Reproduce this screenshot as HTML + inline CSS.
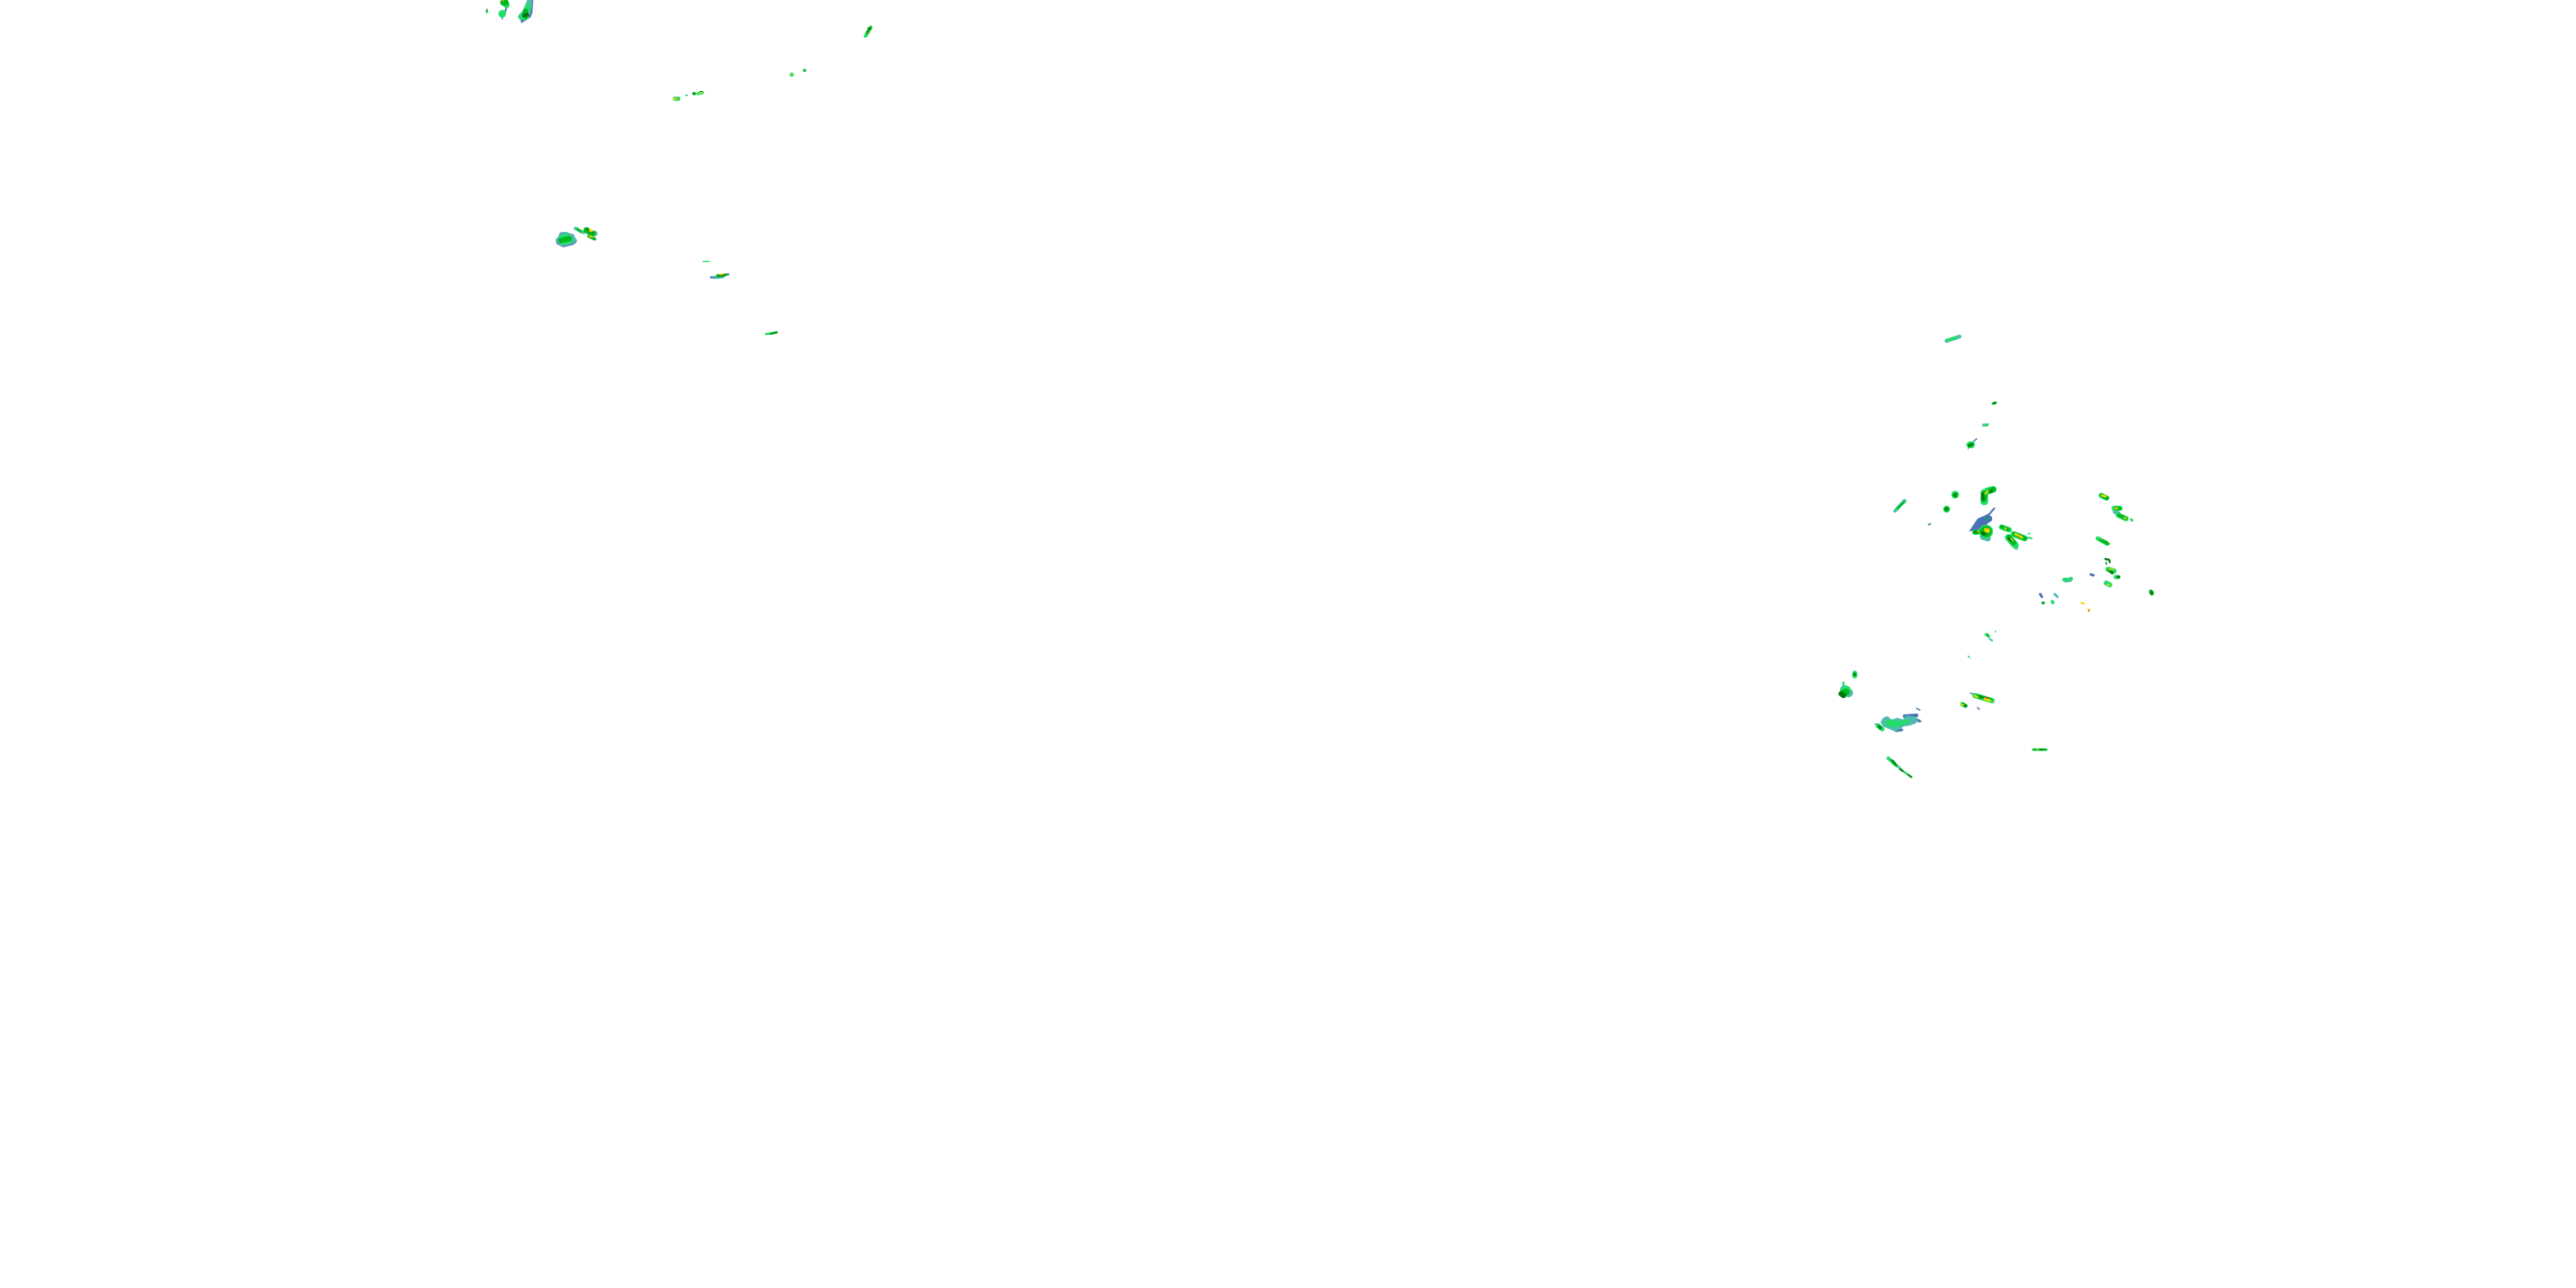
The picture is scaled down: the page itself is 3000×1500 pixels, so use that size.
<!DOCTYPE html>
<html>
<head>
<meta charset="utf-8">
<style>
html,body{margin:0;padding:0;background:#fff;width:3000px;height:1500px;overflow:hidden}
svg{display:block}
line{stroke-linecap:round}
</style>
</head>
<body>
<svg width="3000" height="1500" viewBox="0 0 3000 1500" xmlns="http://www.w3.org/2000/svg">
<rect width="3000" height="1500" fill="#fff"/>

<!-- blue layer -->
<g fill="#4a72b4" stroke="#4a72b4">
<polygon points="616,0 621,0 620,15 618,20 612,24 607,27 606,22 609,12" stroke="none"/>
<line x1="590" y1="8" x2="587" y2="18" stroke-width="2"/>
<line x1="584" y1="18" x2="585" y2="22" stroke-width="1.500"/>
<polygon points="652,271 658,270 668,273 672,281 668,285 660,287 656,288 648,284 647,279 650,276" stroke="none"/>
<line x1="688" y1="276" x2="694" y2="279" stroke-width="1.500"/>
<line x1="828" y1="323" x2="836" y2="323" stroke-width="2.500"/>
<line x1="844" y1="320" x2="848" y2="319.500" stroke-width="2.500"/>
<line x1="2302" y1="511" x2="2297" y2="515" stroke-width="1.500"/>
<line x1="2293" y1="520" x2="2292" y2="523" stroke-width="1"/>
<polygon points="2293,619 2303,604 2310,601 2316,598 2322,591 2324,592 2317,600 2320,602 2320,606 2312,612 2306,616 2298,618" stroke="none"/>
<line x1="2295" y1="807" x2="2305" y2="812" stroke-width="1.500"/>
<line x1="2303" y1="824" x2="2305" y2="826" stroke-width="1.500"/>
<line x1="2376" y1="692" x2="2378" y2="695" stroke-width="3"/>
<line x1="2435" y1="669" x2="2438" y2="670" stroke-width="3"/>
<line x1="2208" y1="851" x2="2215" y2="850" stroke-width="3"/>
<line x1="2218" y1="834" x2="2232" y2="833" stroke-width="4"/>
<line x1="2228" y1="836" x2="2236" y2="840" stroke-width="3"/>
<line x1="2232" y1="825" x2="2236" y2="827" stroke-width="1.500"/>
<line x1="2184" y1="843" x2="2188" y2="847" stroke-width="1.500"/>
</g>

<!-- teal layer -->
<g fill="#4fbcae" stroke="#4fbcae">
<polygon points="614,0 620,0 618,16 610,22 605,23 603,19 609,12" stroke="none"/>
<polygon points="652,272 660,270 668,274 672,280 667,284 660,286 655,287 649,283 647,279 650,276" stroke="none"/>
<line x1="670" y1="266" x2="680" y2="271" stroke-width="3.500"/>
<line x1="686" y1="270" x2="693" y2="272" stroke-width="6"/>
<line x1="832" y1="323" x2="842" y2="322" stroke-width="4"/>
<line x1="2267" y1="397" x2="2282" y2="392" stroke-width="4.500"/>
<line x1="2310" y1="495" x2="2314" y2="495" stroke-width="3.500"/>
<line x1="2207" y1="595" x2="2218" y2="583" stroke-width="4"/>
<line x1="2296" y1="516" x2="2300" y2="513" stroke-width="2"/>
<line x1="2309" y1="625" x2="2315" y2="627" stroke-width="7"/>
<line x1="2348" y1="633" x2="2348" y2="638" stroke-width="4.500"/>
<line x1="2463" y1="596" x2="2467" y2="598" stroke-width="5"/>
<line x1="2406" y1="676" x2="2411" y2="675" stroke-width="5"/>
<line x1="2390" y1="700" x2="2391" y2="701" stroke-width="3"/>
<line x1="2393" y1="692" x2="2396" y2="695" stroke-width="3"/>
<line x1="2317" y1="744" x2="2320" y2="746" stroke-width="2"/>
<polygon points="2193,836 2198,834 2203,838 2210,836 2216,838 2220,833 2226,834 2232,835 2234,840 2230,843 2224,845 2217,846 2213,849 2207,852 2200,849 2193,846 2190,841" stroke="none"/>
<line x1="2148" y1="803" x2="2153" y2="807" stroke-width="10"/>
<line x1="2208" y1="890" x2="2214" y2="896" stroke-width="2.500"/>
</g>

<!-- light green layer -->
<g fill="#22dd66" stroke="#22dd66">
<line x1="567" y1="14" x2="567" y2="14" stroke-width="3"/>
<ellipse cx="585" cy="16" rx="4.500" ry="4.500" stroke="none"/>
<line x1="588" y1="4" x2="590" y2="6" stroke-width="7"/>
<ellipse cx="610" cy="19" rx="6" ry="4.500" stroke="none"/>
<line x1="615" y1="7" x2="612" y2="16" stroke-width="6"/>
<polygon points="653,274 660,272 666,276 668,281 662,284 655,285 650,281" stroke="none"/>
<line x1="672" y1="266" x2="677" y2="270" stroke-width="3"/>
<line x1="1008" y1="42" x2="1014" y2="32" stroke-width="4"/>
<line x1="2268" y1="396" x2="2278" y2="393" stroke-width="3.500"/>
<line x1="2312" y1="495" x2="2315" y2="494" stroke-width="2.500"/>
<ellipse cx="2295" cy="518" rx="5" ry="4" stroke="none"/>
<circle cx="2277" cy="576" r="4.500" stroke="none"/>
<circle cx="2267" cy="593" r="4" stroke="none"/>
<line x1="2208" y1="594" x2="2219" y2="584" stroke-width="2.500"/>
<line x1="2311" y1="574" x2="2311" y2="584" stroke-width="9"/>
<line x1="2314" y1="572" x2="2321" y2="570" stroke-width="8"/>
<line x1="2300" y1="620" x2="2310" y2="619" stroke-width="6"/>
<circle cx="2313" cy="619" r="8" stroke="none"/>
<line x1="2331" y1="614" x2="2340" y2="617" stroke-width="6"/>
<line x1="2345" y1="622" x2="2358" y2="627" stroke-width="7"/>
<line x1="2339" y1="626" x2="2347" y2="635" stroke-width="8"/>
<line x1="2362" y1="622" x2="2364" y2="621" stroke-width="1.500"/>
<line x1="2362" y1="626" x2="2366" y2="627" stroke-width="2"/>
<line x1="2447" y1="577" x2="2453" y2="580" stroke-width="6"/>
<line x1="2462" y1="592" x2="2469" y2="592" stroke-width="6"/>
<line x1="2467" y1="600" x2="2476" y2="604" stroke-width="6"/>
<line x1="2482" y1="605" x2="2483" y2="606" stroke-width="3"/>
<line x1="2443" y1="627" x2="2454" y2="633" stroke-width="5"/>
<line x1="2455" y1="663" x2="2462" y2="665" stroke-width="6"/>
<line x1="2464" y1="672" x2="2467" y2="672" stroke-width="5"/>
<line x1="2453" y1="679" x2="2457" y2="681" stroke-width="6"/>
<line x1="2404" y1="675" x2="2406" y2="675" stroke-width="4.500"/>
<line x1="2412" y1="674" x2="2412" y2="674" stroke-width="4.500"/>
<line x1="2148" y1="806" x2="2150" y2="804" stroke-width="11"/>
<line x1="2160" y1="784" x2="2160" y2="787" stroke-width="6"/>
<line x1="2147" y1="795" x2="2147" y2="798" stroke-width="2.500"/>
<polygon points="2196,839 2202,838 2210,840 2220,838 2224,842 2214,845 2204,847 2197,845" stroke="none"/>
<line x1="2187" y1="845" x2="2192" y2="849" stroke-width="5.500"/>
<line x1="2199" y1="883" x2="2208" y2="891" stroke-width="4"/>
<line x1="2212" y1="895" x2="2226" y2="905" stroke-width="2.500"/>
<line x1="2313" y1="739" x2="2316" y2="741" stroke-width="3.500"/>
<line x1="2324" y1="735" x2="2324" y2="736" stroke-width="1.500"/>
<line x1="2292" y1="764" x2="2294" y2="766" stroke-width="1.500"/>
<line x1="2300" y1="810" x2="2320" y2="816" stroke-width="6"/>
<line x1="2285" y1="820" x2="2289" y2="822" stroke-width="5"/>
<line x1="2368" y1="873" x2="2383" y2="873" stroke-width="3"/>
<line x1="2391" y1="702" x2="2390" y2="701" stroke-width="3.500"/>
<line x1="819" y1="304.500" x2="826" y2="304.500" stroke-width="1.500"/>
<line x1="892" y1="389" x2="904" y2="387" stroke-width="2.500"/>
<line x1="786" y1="115" x2="790" y2="115" stroke-width="5"/>
<line x1="813" y1="109" x2="818" y2="108" stroke-width="3.500"/>
<line x1="922" y1="87" x2="922" y2="87" stroke-width="5"/>
<line x1="799" y1="111" x2="800" y2="111" stroke-width="2"/>
</g>

<!-- green layer -->
<g fill="#00b820" stroke="#00b820">
<line x1="586" y1="3" x2="589" y2="3" stroke-width="7"/>
<line x1="612" y1="13" x2="612" y2="19" stroke-width="6"/>
<line x1="653" y1="280" x2="663" y2="278" stroke-width="6"/>
<line x1="673" y1="267" x2="676" y2="270" stroke-width="2.500"/>
<line x1="683" y1="268" x2="690" y2="272" stroke-width="7"/>
<line x1="686" y1="275" x2="692" y2="278" stroke-width="4"/>
<line x1="836" y1="321" x2="845" y2="320" stroke-width="3.500"/>
<line x1="897" y1="389" x2="905" y2="387" stroke-width="2.200"/>
<line x1="808" y1="109" x2="809" y2="109" stroke-width="3.500"/>
<line x1="1010" y1="38" x2="1014" y2="32" stroke-width="3.500"/>
<line x1="937" y1="82" x2="937" y2="82" stroke-width="3.500"/>
<line x1="2296" y1="518" x2="2294" y2="519" stroke-width="5"/>
<circle cx="2277" cy="577" r="3" stroke="none"/>
<circle cx="2267" cy="593" r="3" stroke="none"/>
<line x1="2321" y1="470" x2="2324" y2="469" stroke-width="3"/>
<line x1="2210" y1="592" x2="2217" y2="585" stroke-width="2"/>
<line x1="2311" y1="575" x2="2310" y2="581" stroke-width="7"/>
<line x1="2317" y1="572" x2="2322" y2="570" stroke-width="6"/>
<circle cx="2313" cy="619" r="6.500" stroke="none"/>
<line x1="2299" y1="620" x2="2306" y2="619" stroke-width="4"/>
<circle cx="2314" cy="604" r="1.500" stroke="none"/>
<line x1="2331" y1="613" x2="2339" y2="617" stroke-width="4"/>
<line x1="2346" y1="622" x2="2358" y2="627" stroke-width="5"/>
<line x1="2340" y1="626" x2="2345" y2="632" stroke-width="6"/>
<line x1="2448" y1="577" x2="2454" y2="580" stroke-width="5"/>
<line x1="2464" y1="592" x2="2469" y2="592" stroke-width="4"/>
<line x1="2468" y1="600" x2="2476" y2="604" stroke-width="4"/>
<line x1="2447" y1="629" x2="2455" y2="633" stroke-width="4"/>
<line x1="2505" y1="689" x2="2506" y2="691" stroke-width="5"/>
<line x1="2379" y1="702" x2="2380" y2="702" stroke-width="3"/>
<line x1="2456" y1="664" x2="2460" y2="667" stroke-width="4"/>
<line x1="2146" y1="808" x2="2150" y2="806" stroke-width="8"/>
<line x1="2160" y1="785" x2="2160" y2="786" stroke-width="4"/>
<line x1="2205" y1="887" x2="2209" y2="892" stroke-width="3"/>
<line x1="2188" y1="846" x2="2190" y2="848" stroke-width="3.500"/>
<line x1="2303" y1="811" x2="2318" y2="815" stroke-width="5"/>
<line x1="2286" y1="820" x2="2289" y2="822" stroke-width="4"/>
<line x1="2368" y1="873" x2="2383" y2="873" stroke-width="2"/>
</g>

<!-- dark green layer -->
<g fill="#06750f" stroke="#06750f">
<line x1="567" y1="11" x2="567" y2="13" stroke-width="1.500"/>
<line x1="610" y1="18" x2="614" y2="17" stroke-width="4"/>
<line x1="1011" y1="33" x2="1013" y2="34" stroke-width="2"/>
<line x1="1010" y1="37" x2="1012" y2="38" stroke-width="2"/>
<line x1="807" y1="109" x2="809" y2="109" stroke-width="1.500"/>
<line x1="815" y1="106.500" x2="818" y2="106.500" stroke-width="1"/>
<line x1="684" y1="267" x2="690" y2="271" stroke-width="2"/>
<line x1="836" y1="322" x2="844" y2="320" stroke-width="1.200"/>
<line x1="899" y1="389" x2="905" y2="387" stroke-width="1"/>
<line x1="2322" y1="470" x2="2324" y2="469" stroke-width="2"/>
<line x1="2293" y1="519" x2="2297" y2="517" stroke-width="2"/>
<line x1="2276" y1="577" x2="2278" y2="575" stroke-width="2"/>
<line x1="2266" y1="593" x2="2268" y2="592" stroke-width="2"/>
<line x1="2246" y1="611" x2="2248" y2="610" stroke-width="1.500"/>
<line x1="2309" y1="575" x2="2310" y2="582" stroke-width="3"/>
<line x1="2320" y1="571" x2="2318" y2="573" stroke-width="2"/>
<line x1="2309" y1="621" x2="2311" y2="622" stroke-width="4"/>
<line x1="2300" y1="619" x2="2303" y2="620" stroke-width="2"/>
<line x1="2339" y1="627" x2="2342" y2="630" stroke-width="2"/>
<line x1="2452" y1="651" x2="2456" y2="652" stroke-width="2.500"/>
<line x1="2457" y1="653" x2="2457" y2="655" stroke-width="2"/>
<line x1="2453" y1="655" x2="2453" y2="657" stroke-width="1.500"/>
<line x1="2466" y1="672" x2="2468" y2="672" stroke-width="2.500"/>
<line x1="2458" y1="666" x2="2460" y2="667" stroke-width="2.500"/>
<line x1="2506" y1="690" x2="2506" y2="691" stroke-width="3"/>
<line x1="2379" y1="703" x2="2380" y2="703" stroke-width="1.500"/>
<line x1="2144" y1="808" x2="2147" y2="810" stroke-width="6"/>
<line x1="2160" y1="785" x2="2160" y2="786" stroke-width="2"/>
<line x1="2203" y1="885" x2="2207" y2="890" stroke-width="1.800"/>
<line x1="2213" y1="896" x2="2216" y2="898" stroke-width="2"/>
<line x1="2222" y1="902" x2="2226" y2="905" stroke-width="1.500"/>
<line x1="2189" y1="846" x2="2190" y2="848" stroke-width="2.500"/>
<line x1="2315" y1="738" x2="2315" y2="740" stroke-width="1"/>
<line x1="2306" y1="811" x2="2309" y2="812" stroke-width="1.500"/>
<line x1="2289" y1="822" x2="2290" y2="822" stroke-width="2"/>
<line x1="2376" y1="873" x2="2379" y2="873" stroke-width="1.500"/>
</g>

<!-- yellow layer -->
<g fill="#f4d800" stroke="#f4d800">
<line x1="687" y1="268" x2="689" y2="269" stroke-width="3"/>
<line x1="687" y1="275" x2="690" y2="276" stroke-width="2"/>
<line x1="838" y1="320" x2="843" y2="319" stroke-width="1.500"/>
<line x1="785" y1="115" x2="788" y2="115" stroke-width="2"/>
<line x1="815" y1="108" x2="817" y2="108" stroke-width="1.500"/>
<circle cx="922" cy="87" r="1" stroke="none"/>
<line x1="1011" y1="38" x2="1012" y2="38" stroke-width="1.200"/>
<line x1="2312" y1="575" x2="2315" y2="572" stroke-width="2"/>
<line x1="2313" y1="617" x2="2315" y2="618" stroke-width="5"/>
<line x1="2303" y1="619" x2="2305" y2="619" stroke-width="1.500"/>
<line x1="2335" y1="615" x2="2336" y2="616" stroke-width="2"/>
<line x1="2347" y1="622" x2="2355" y2="626" stroke-width="2.500"/>
<line x1="2342" y1="627" x2="2344" y2="630" stroke-width="1.500"/>
<line x1="2448" y1="577" x2="2452" y2="578" stroke-width="2.500"/>
<line x1="2463" y1="592" x2="2466" y2="592" stroke-width="1.800"/>
<line x1="2474" y1="603" x2="2476" y2="604" stroke-width="1.800"/>
<line x1="2447" y1="628" x2="2448" y2="628" stroke-width="1"/>
<line x1="2455" y1="632" x2="2456" y2="632" stroke-width="1"/>
<line x1="2456" y1="663" x2="2461" y2="663" stroke-width="1.200"/>
<line x1="2454" y1="681" x2="2457" y2="681" stroke-width="1.500"/>
<line x1="2424" y1="702" x2="2427" y2="703" stroke-width="2"/>
<line x1="2432" y1="710" x2="2434" y2="710" stroke-width="1.800"/>
<line x1="2300" y1="810" x2="2303" y2="812" stroke-width="2"/>
<line x1="2311" y1="814" x2="2318" y2="816" stroke-width="2.500"/>
<line x1="2284" y1="820" x2="2286" y2="821" stroke-width="2"/>
<line x1="2372" y1="873" x2="2374" y2="873" stroke-width="1"/>
</g>

<!-- orange layer -->
<g fill="#f5a400" stroke="#f5a400">
<circle cx="586" cy="1" r="1" stroke="none"/>
<line x1="787" y1="114" x2="788" y2="115" stroke-width="1.500"/>
<line x1="689" y1="276" x2="690" y2="276" stroke-width="1.500"/>
<line x1="2313" y1="616" x2="2314" y2="616" stroke-width="2"/>
<line x1="2350" y1="624" x2="2352" y2="625" stroke-width="1.500"/>
<line x1="2433" y1="710" x2="2433" y2="711" stroke-width="1.500"/>
</g>

<!-- red layer -->
<g fill="#e03020" stroke="#e03020">
<line x1="2312" y1="812" x2="2314" y2="813" stroke-width="1.500"/>
<line x1="2432" y1="711" x2="2433" y2="712" stroke-width="1"/>
</g>
</svg>
</body>
</html>
